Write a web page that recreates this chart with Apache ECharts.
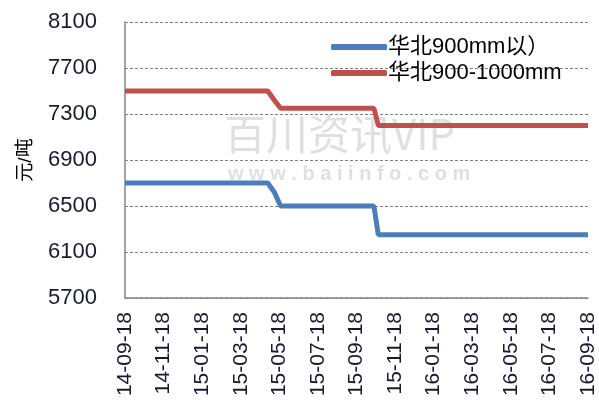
<!DOCTYPE html>
<html>
<head>
<meta charset="utf-8">
<script src="https://cdn.jsdelivr.net/npm/echarts@6/dist/echarts.min.js"></script>
<style>
  html, body { margin: 0; padding: 0; background: #fff; }
  #chart { width: 599px; height: 403px; }
</style>
</head>
<body>
<div id="chart"></div>
<script>
// tick labels along the bottom, one every two months
const xLabels = ["14-09-18", "14-11-18", "15-01-18", "15-03-18", "15-05-18", "15-07-18", "15-09-18",
                 "15-11-18", "16-01-18", "16-03-18", "16-05-18", "16-07-18", "16-09-18"];

// 华北900mm以上
const blueDates = ["2014-09-18", "2015-04-30", "2015-05-10", "2015-05-20", "2015-10-15", "2015-10-22", "2016-09-18"];
const bluePrices = [6700, 6700, 6620, 6500, 6500, 6250, 6250];

// 华北900-1000mm
const redDates = ["2014-09-18", "2015-04-30", "2015-05-10", "2015-05-20", "2015-10-15", "2015-10-22", "2016-09-18"];
const redPrices = [7500, 7500, 7420, 7350, 7350, 7200, 7200];

const yBase = 5700; // axis starts at 5700, ticks every 400

// months elapsed since 2014-09-18
function monthOffset(s) {
    let p = s.split("-").map(Number);
    let dim = new Date(p[0], p[1], 0).getDate();
    return (p[0] - 2014) * 12 + (p[1] - 9) + (p[2] - 18) / dim;
}

function pairs(dates, prices) {
    return dates.map((d, i) => [monthOffset(d), prices[i] - yBase]);
}

let chart = echarts.init(document.getElementById("chart"));
const font = "Arial, 'Liberation Sans', 'Noto Sans CJK SC', sans-serif";

chart.setOption({
    animation: false,
    textStyle: { fontFamily: font },
    grid: { left: 125, right: 11, top: 22, bottom: 105 },
    graphic: [
        {
            type: "text", left: 224, top: 113, z: 0,
            style: { text: "百川资讯VIP", font: "42px 'Noto Sans CJK SC', sans-serif", fill: "#e0e0e0" }
        },
        {
            type: "text", left: 228, top: 164, z: 0,
            style: { text: "w w w . b a i i n f o . c o m", font: "bold 20px Arial, sans-serif", fill: "#e0e0e0" }
        }
    ],
    legend: {
        orient: "vertical",
        left: 326,
        top: 31,
        itemGap: 4,
        itemWidth: 56,
        itemHeight: 6,
        icon: "roundRect",
        textStyle: { fontSize: 22, color: "#000", padding: [0, 0, 0, -4] },
        data: ["华北900mm以）", "华北900-1000mm"]
    },
    xAxis: {
        type: "value",
        min: 0,
        max: 24,
        interval: 2,
        axisLine: { show: true, lineStyle: { color: "#868686", width: 1.5 } },
        axisTick: { show: false },
        splitLine: { show: false },
        axisLabel: {
            rotate: 90,
            margin: 14,
            fontSize: 21,
            color: "#1a1a2e",
            formatter: v => xLabels[Math.round(v / 2)]
        }
    },
    yAxis: {
        type: "value",
        min: 0,
        max: 2400,
        interval: 400,
        name: "元/吨",
        nameLocation: "middle",
        nameGap: 90,
        nameTextStyle: { fontSize: 19, color: "#000" },
        axisLine: { show: true, lineStyle: { color: "#868686", width: 1.5 } },
        axisTick: { show: false },
        splitLine: { lineStyle: { color: "#808080", type: [3, 2], width: 1 } },
        axisLabel: {
            margin: 28,
            fontSize: 22,
            color: "#1a1a2e",
            formatter: v => String(v + yBase)
        }
    },
    series: [
        {
            name: "华北900mm以）",
            type: "line",
            showSymbol: false,
            color: "#4a7ebb",
            lineStyle: { width: 5, color: "#4a7ebb" },
            data: pairs(blueDates, bluePrices),
            z: 3
        },
        {
            name: "华北900-1000mm",
            type: "line",
            showSymbol: false,
            color: "#c0504d",
            lineStyle: { width: 5, color: "#c0504d" },
            data: pairs(redDates, redPrices),
            z: 3
        }
    ]
});
</script>
</body>
</html>
